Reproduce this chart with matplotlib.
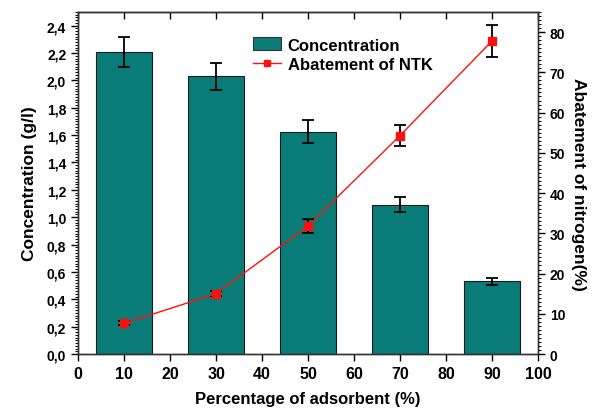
import matplotlib
matplotlib.use("Agg")
import matplotlib.pyplot as plt
from matplotlib.ticker import MultipleLocator, FuncFormatter
from matplotlib.patches import Patch
from matplotlib.lines import Line2D

plt.rcParams['font.family'] = ['Liberation Sans', 'DejaVu Sans']
plt.rcParams['font.weight'] = 'bold'

# Data
adsorbent = [10, 30, 50, 70, 90]
concentration = [2.21, 2.03, 1.625, 1.09, 0.53]
concentration_err = [0.11, 0.10, 0.085, 0.055, 0.025]
abatement = [7.6, 15.0, 31.8, 54.3, 77.8]
abatement_err = [0.5, 0.7, 1.7, 2.6, 3.9]

bar_color = '#0a7c77'
line_color = '#ff1010'

fig = plt.figure(figsize=(5.97, 4.14), dpi=100)
ax = fig.add_axes([0.1307, 0.1425, 0.7705, 0.8261])
ax2 = ax.twinx()

ax.bar(adsorbent, concentration, width=12, color=bar_color,
       edgecolor='#1a1a1a', linewidth=0.8, zorder=2)
ax.errorbar(adsorbent, concentration, yerr=concentration_err, fmt='none',
            ecolor='black', elinewidth=1.3, capsize=4, capthick=1.3, zorder=3)

ax2.errorbar(adsorbent, abatement, yerr=abatement_err, fmt='none',
             ecolor='black', elinewidth=1.3, capsize=4, capthick=1.3, zorder=3)
ax2.plot(adsorbent, abatement, color=line_color, lw=1.0, marker='s',
         markersize=6, markerfacecolor=line_color, markeredgecolor=line_color,
         zorder=4)

ax.set_xlim(0, 100)
ax.set_ylim(0, 2.5)
ax2.set_ylim(0, 85)

ax.xaxis.set_major_locator(MultipleLocator(10))
ax.yaxis.set_major_locator(MultipleLocator(0.2))
ax.yaxis.set_minor_locator(MultipleLocator(0.02))
ax2.yaxis.set_major_locator(MultipleLocator(10))
ax2.yaxis.set_minor_locator(MultipleLocator(1))
ax.yaxis.set_major_formatter(FuncFormatter(lambda v, p: f"{v:.1f}".replace('.', ',')))

ax.tick_params(axis='x', which='major', direction='out', length=5, width=1,
               labelsize=11.5, top=False)
ax.tick_params(axis='y', which='major', direction='out', length=5, width=1,
               labelsize=10)
ax.tick_params(axis='y', which='minor', direction='out', length=2.5, width=0.7)
ax2.tick_params(axis='y', which='major', direction='out', length=5, width=1,
                labelsize=10)
ax2.tick_params(axis='y', which='minor', direction='out', length=2.5, width=0.7)

# inward ticks along the top edge
ax_top = ax.secondary_xaxis('top')
ax_top.xaxis.set_major_locator(MultipleLocator(10))
ax_top.tick_params(direction='in', length=5, width=1, labeltop=False)

for a in (ax, ax2):
    for s in a.spines.values():
        s.set_linewidth(1.0)
        s.set_color('#333333')

ax.set_xlabel('Percentage of adsorbent (%)', fontsize=12, fontweight='bold', labelpad=7)
ax.set_ylabel('Concentration (g/l)', fontsize=12.5, fontweight='bold', labelpad=7)
ax2.set_ylabel('Abatement of nitrogen(%)', fontsize=12.5, fontweight='bold',
               rotation=-90, labelpad=15)

handles = [Patch(facecolor=bar_color, edgecolor='#333333', linewidth=0.8),
           Line2D([], [], color=line_color, lw=1.0, marker='s', markersize=5,
                  markerfacecolor=line_color, markeredgecolor=line_color)]
ax.legend(handles, ['Concentration', 'Abatement of NTK'], loc='upper left',
          bbox_to_anchor=(0.365, 0.945), frameon=False, fontsize=12,
          handlelength=1.7, handleheight=0.8, labelspacing=0.25,
          handletextpad=0.4, borderaxespad=0)

fig.savefig('out.png', dpi=100)
